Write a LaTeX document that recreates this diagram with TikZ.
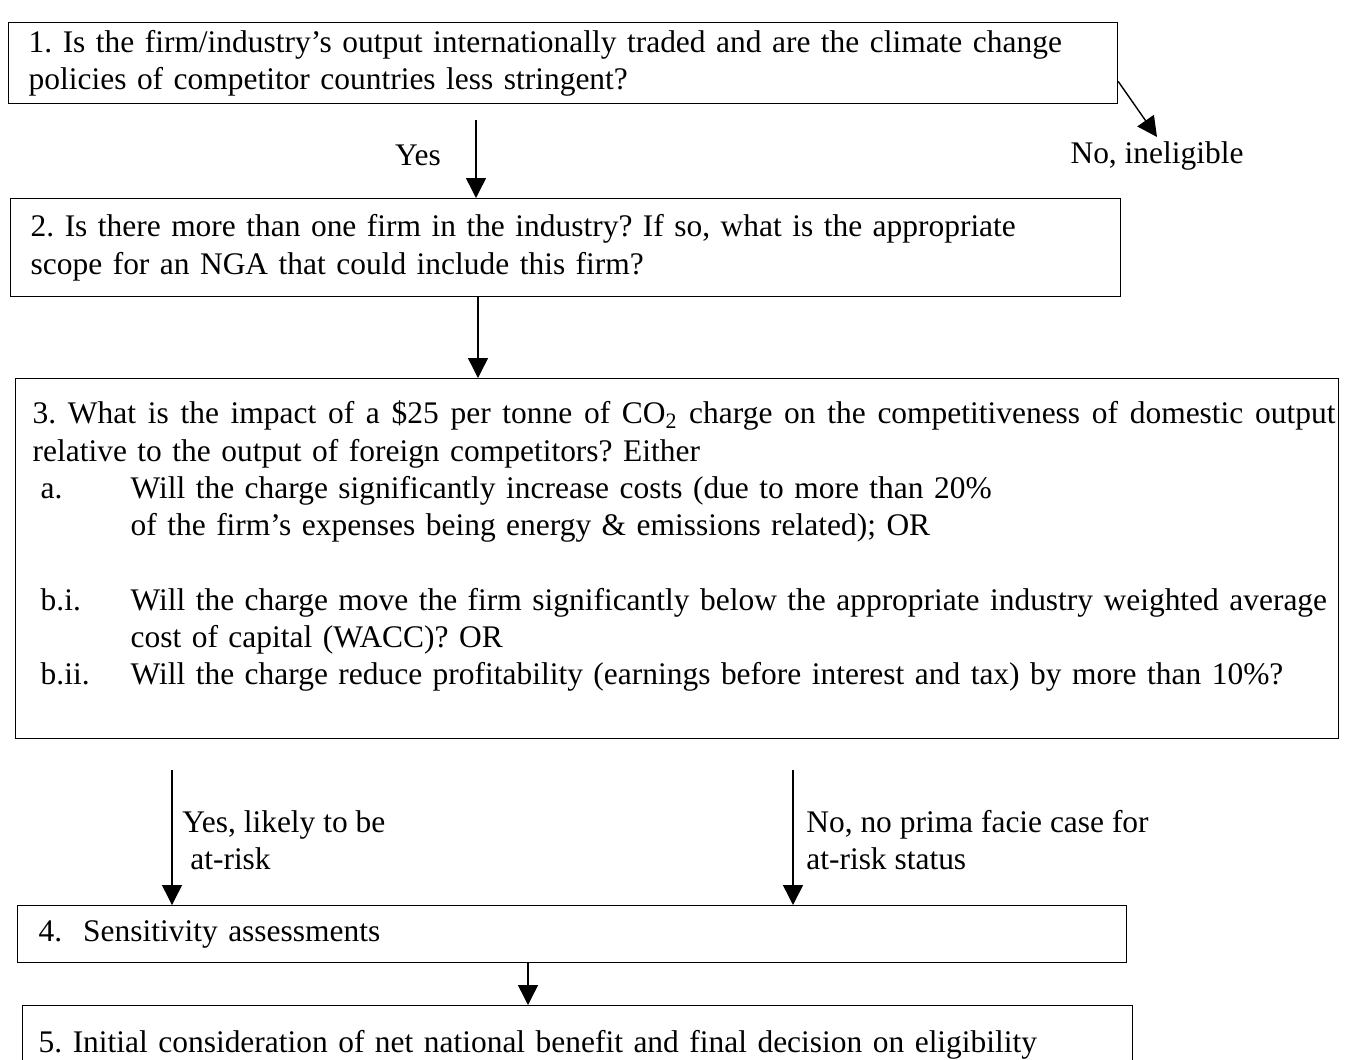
\documentclass[tikz,border=0pt]{standalone}
\usepackage{fontspec}
\setmainfont{Liberation Serif}
\usetikzlibrary{arrows.meta, positioning, calc}
\newcommand{\qfont}{\fontsize{17.9}{21.2}\selectfont\frenchspacing}
\newcommand{\qitem}[2]{\hspace*{0.16cm}\makebox[1.8cm][l]{#1}\mbox{#2}}
\newcommand{\qcont}[1]{\hspace*{1.96cm}\mbox{#1}}
\newcommand{\qspread}[2]{\makebox[#1][s]{\spaceskip=0.25em plus 1fil\relax #2}}
\tikzset{
  qbox/.style   = {draw, line width=0.8pt, anchor=north west, align=left,
                   inner ysep=0.05cm, font=\qfont},
  answer/.style = {font=\qfont, align=left, inner sep=0pt},
  flow/.style   = {-{Triangle[length=0.4cm, width=0.4cm]}, line width=0.8pt},
}

\begin{document}
\begin{tikzpicture}[x=0.02cm, y=-0.02cm]
    \useasboundingbox (0,0) rectangle (1348,1059);
    \fill[white] (0,0) rectangle (1348,1059);
    \node[qbox, inner xsep=0.4cm, text width=21.38cm, minimum height=1.62cm] (q1) at (8,22)
      {1. Is the firm/industry’s output internationally traded and are the climate change\\
       policies of competitor countries less stringent?};
    \node[qbox, inner xsep=0.4cm, text width=21.4cm, minimum height=1.96cm] (q2) at (10,198)
      {2. Is there more than one firm in the industry? If so, what is the appropriate\\
       scope for an NGA that could include this firm?};
    \node[qbox, inner xsep=0.34cm, text width=25.78cm, minimum height=7.2cm] (q3) at (15,378)
      {\qspread{26.06cm}{3. What is the impact of a \$25 per tonne of CO\textsubscript{2} charge on the competitiveness of domestic output}\\
       relative to the output of foreign competitors? Either\\
       \qitem{a.}{Will the charge significantly increase costs (due to more than 20\%}\\
       \qcont{of the firm’s expenses being energy \& emissions related); OR}\\[\baselineskip]
       \qitem{b.i.}{Will the charge move the firm significantly below the appropriate industry weighted average}\\
       \qcont{cost of capital (WACC)? OR}\\
       \qitem{b.ii.}{Will the charge reduce profitability (earnings before interest and tax) by more than 10\%?}
       \par\vspace{0.5cm}\kern0pt};
    \node[qbox, inner xsep=0.42cm, text width=21.34cm, minimum height=1.14cm] (q4) at (17,905)
      {4.\ \ Sensitivity assessments};
    \node[qbox, inner xsep=0.32cm, text width=21.56cm, minimum height=1.56cm] (q5) at (22,1005)
      {5. Initial consideration of net national benefit and final decision on eligibility};
    \coordinate (yesTop) at (476,120);
    \draw[flow] (yesTop) -- (yesTop |- q2.north);
    \node[answer] (yesLbl) at (418,155) {Yes};
    \coordinate (noEnd) at (1157,137);
    \draw[flow] ([yshift=0.46cm]q1.south east) -- (noEnd);
    \node[answer] (noLbl) at (1157,156) {No, ineligible};
    \coordinate (c23) at (478,0);
    \draw[flow] (c23 |- q2.south) -- (c23 |- q3.north);
    \coordinate (atRisk) at (172,770);
    \coordinate (noRisk) at (793,770);
    \draw[flow] (atRisk) -- (atRisk |- q4.north);
    \draw[flow] (noRisk) -- (noRisk |- q4.north);
    \node[answer, anchor=west] (atRiskLbl) at (182,840) {Yes, likely to be\\\hspace*{0.16cm}at-risk};
    \node[answer, anchor=west] (noRiskLbl) at (806,840) {No, no prima facie case for\\at-risk status};
    \coordinate (c45) at (528,0);
    \draw[flow] (c45 |- q4.south) -- (c45 |- q5.north);
\end{tikzpicture}
\end{document}
